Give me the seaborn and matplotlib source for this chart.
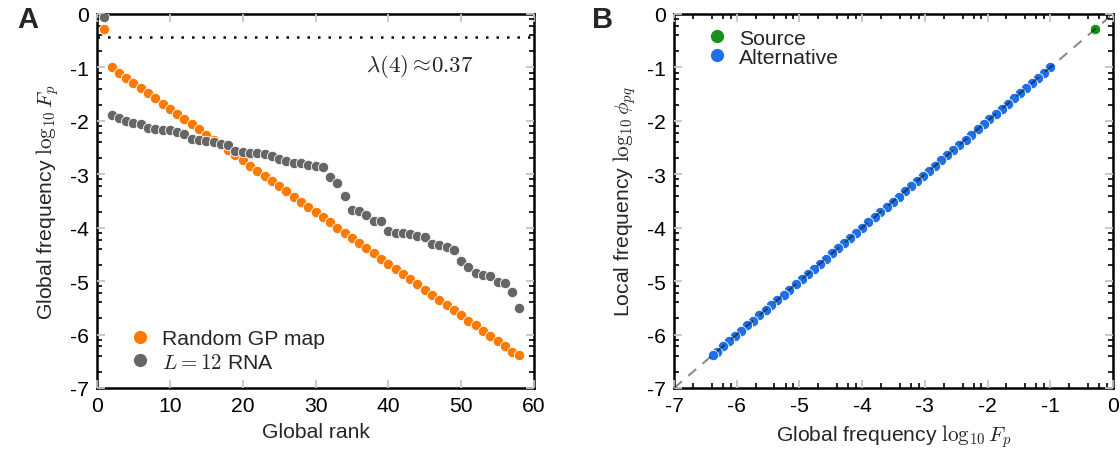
import numpy as np
import pandas as pd
import matplotlib
matplotlib.use("Agg")
import matplotlib.pyplot as plt
from matplotlib.ticker import FixedLocator
from matplotlib.lines import Line2D
import seaborn as sns

# ---------------- data ----------------
rank = list(range(1, 59))
random_gp = [-0.29, -1.00, -1.10, -1.19, -1.29, -1.39, -1.48, -1.58, -1.68, -1.77,
             -1.87, -1.97, -2.06, -2.16, -2.26, -2.35, -2.45, -2.55, -2.64, -2.74,
             -2.84, -2.93, -3.03, -3.13, -3.22, -3.32, -3.42, -3.51, -3.61, -3.71,
             -3.80, -3.90, -4.00, -4.09, -4.19, -4.29, -4.38, -4.48, -4.58, -4.67,
             -4.77, -4.87, -4.96, -5.06, -5.16, -5.25, -5.35, -5.45, -5.54, -5.64,
             -5.74, -5.83, -5.93, -6.03, -6.12, -6.22, -6.32, -6.38]
rna_l12 = [-0.06, -1.89, -1.95, -2.01, -2.04, -2.05, -2.14, -2.15, -2.17, -2.18,
           -2.20, -2.25, -2.34, -2.36, -2.37, -2.39, -2.43, -2.45, -2.56, -2.58,
           -2.60, -2.60, -2.62, -2.65, -2.72, -2.75, -2.79, -2.79, -2.83, -2.84,
           -2.86, -3.05, -3.17, -3.40, -3.66, -3.68, -3.76, -3.88, -3.87, -4.06,
           -4.09, -4.10, -4.12, -4.16, -4.17, -4.31, -4.33, -4.37, -4.41, -4.62,
           -4.73, -4.85, -4.89, -4.91, -5.01, -5.04, -5.20, -5.51]
lambda4 = 0.37

source_global = [-0.29]
source_local = [-0.29]
alt_global = random_gp[1:]
alt_local = random_gp[1:]

C_ORANGE = "#ff7a00"
C_GRAY = "#666666"
C_GREEN = "#1b8f1b"
C_BLUE = "#1f6fe5"

# ---------------- style ----------------
sns.set_style("white")
rc = plt.rcParams
rc["font.family"] = ["Liberation Sans", "DejaVu Sans"]
rc["mathtext.fontset"] = "cm"
rc["axes.unicode_minus"] = False
rc["axes.axisbelow"] = False
rc["axes.linewidth"] = 1.8
rc["axes.edgecolor"] = "black"
for a in ("xtick", "ytick"):
    rc[f"{a}.direction"] = "in"
    rc[f"{a}.major.size"] = 6
    rc[f"{a}.major.width"] = 1.3
    rc[f"{a}.minor.size"] = 3.5
    rc[f"{a}.minor.width"] = 1.2
    rc[f"{a}.color"] = "black"
    rc[f"{a}.labelcolor"] = "black"
rc["xtick.bottom"] = True
rc["xtick.top"] = True
rc["ytick.left"] = True
rc["ytick.right"] = True

FS = 15.2
MS = 56

fig = plt.figure(figsize=(11.2, 4.56), dpi=100)
W, H = 1120, 456
axA = fig.add_axes([97 / W, 1 - 389 / H, 437 / W, 374 / H])
axB = fig.add_axes([674 / W, 1 - 389 / H, 439 / W, 374 / H])


def log_minor(lo, hi):
    return [n + np.log10(k) for n in range(lo, hi) for k in (2, 4, 6, 8)]


# ---------------- panel A ----------------
dfA = pd.DataFrame({"rank": rank, "gp": random_gp, "rna": rna_l12})
axA.axhline(np.log10(lambda4), color="black", lw=1.8, ls=(0, (1, 3.2)), zorder=2)
sns.scatterplot(data=dfA, x="rank", y="gp", color=C_ORANGE, s=MS,
                edgecolor="white", linewidth=0.6, ax=axA, zorder=3, legend=False)
sns.scatterplot(data=dfA, x="rank", y="rna", color=C_GRAY, s=MS,
                edgecolor="white", linewidth=0.6, ax=axA, zorder=4, legend=False)
axA.text(51.7, -0.97, r"$\lambda(4)\approx\!0.37$", ha="right", va="center",
         fontsize=16.5)
axA.set_xlim(0, 60)
axA.set_ylim(-7, 0)
axA.set_xticks([0, 10, 20, 30, 40, 50, 60])
axA.set_yticks(range(-7, 1))
axA.set_xlabel("Global rank", fontsize=FS, labelpad=5)
axA.set_ylabel(r"Global frequency $\log_{10}F_p$", fontsize=FS, labelpad=6)
hA = [Line2D([], [], marker="o", ls="", color=C_ORANGE, markersize=8.5),
      Line2D([], [], marker="o", ls="", color=C_GRAY, markersize=8.5)]
axA.legend(hA, ["Random GP map", r"$L=12$ RNA"], loc="lower left",
           bbox_to_anchor=(0.04, 0.01), frameon=False, fontsize=FS,
           handletextpad=0.45, labelspacing=0.2, borderaxespad=0.2,
           handlelength=1.2)

# ---------------- panel B ----------------
axB.plot([-7, 0], [-7, 0], color="black", alpha=0.45, lw=1.5,
         ls=(0, (5, 4)), zorder=5)
sns.scatterplot(x=alt_global, y=alt_local, color=C_BLUE, s=MS,
                edgecolor="white", linewidth=0.6, ax=axB, zorder=3, legend=False)
sns.scatterplot(x=source_global, y=source_local, color=C_GREEN, s=MS,
                edgecolor="white", linewidth=0.6, ax=axB, zorder=3, legend=False)
axB.set_xlim(-7, 0)
axB.set_ylim(-7, 0)
axB.set_xticks(range(-7, 1))
axB.set_yticks(range(-7, 1))
axB.set_xlabel(r"Global frequency $\log_{10}F_p$", fontsize=FS, labelpad=5)
axB.set_ylabel(r"Local frequency $\log_{10}\phi_{pq}$", fontsize=FS, labelpad=6)
hB = [Line2D([], [], marker="o", ls="", color=C_GREEN, markersize=8.5),
      Line2D([], [], marker="o", ls="", color=C_BLUE, markersize=8.5)]
axB.legend(hB, ["Source", "Alternative"], loc="upper left",
           bbox_to_anchor=(0.04, 0.995), frameon=False, fontsize=FS,
           handletextpad=0.45, labelspacing=0.0, borderaxespad=0.2,
           handlelength=1.2)

# ---------------- ticks (applied last) ----------------
axA.yaxis.set_minor_locator(FixedLocator(log_minor(-7, 0)))
axB.xaxis.set_minor_locator(FixedLocator(log_minor(-7, 0)))
axB.yaxis.set_minor_locator(FixedLocator(log_minor(-7, 0)))
for ax in (axA, axB):
    ax.tick_params(which="major", color="#c4c4c4", length=6, width=1.3,
                   labelcolor="black", labelsize=FS, pad=6, direction="in",
                   left=True, right=True, top=True, bottom=True)
    ax.tick_params(which="minor", color="black", length=3.5, width=1.2,
                   direction="in", left=True, right=True, top=True, bottom=True)
    for line in ax.xaxis.get_ticklines(minor=True) + ax.yaxis.get_ticklines(minor=True):
        line.set_zorder(6)

fig.text(28 / W, 1 - 20 / H, "A", fontsize=21, fontweight="bold",
         ha="center", va="center")
fig.text(603 / W, 1 - 20 / H, "B", fontsize=21, fontweight="bold",
         ha="center", va="center")

fig.canvas.draw()
fig.savefig("out.png", dpi=100)
